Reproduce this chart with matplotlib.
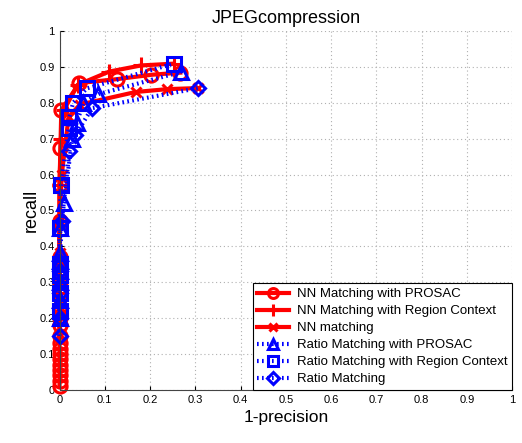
import matplotlib
matplotlib.use("Agg")
import matplotlib.pyplot as plt

plt.rcParams["font.family"] = ["Liberation Sans", "DejaVu Sans"]

# NN matching variants (red, solid)
nn_prosac_x = [0, 0, 0, 0, 0, 0, 0, 0, 0, 0, 0, 0, 0, 0, 0, 0, 0, 0, 0, 0.002, 0.004, 0.044, 0.128, 0.203, 0.267]
nn_prosac_y = [0.01, 0.025, 0.04, 0.055, 0.07, 0.085, 0.10, 0.115, 0.13, 0.15, 0.18, 0.20, 0.23, 0.27, 0.30,
               0.33, 0.37, 0.47, 0.57, 0.675, 0.78, 0.855, 0.866, 0.878, 0.884]
nn_region_x = [0, 0, 0, 0, 0, 0, 0, 0.003, 0.010, 0.040, 0.110, 0.180, 0.252]
nn_region_y = [0.18, 0.22, 0.27, 0.32, 0.36, 0.45, 0.57, 0.70, 0.78, 0.85, 0.887, 0.904, 0.909]
nn_plain_x = [0, 0, 0, 0, 0, 0.005, 0.020, 0.045, 0.168, 0.238, 0.307]
nn_plain_y = [0.15, 0.22, 0.30, 0.38, 0.47, 0.60, 0.76, 0.795, 0.830, 0.838, 0.841]

# Ratio matching variants (blue, dotted)
ratio_prosac_x = [0, 0, 0, 0, 0, 0, 0.002, 0.010, 0.028, 0.038, 0.053, 0.086, 0.269]
ratio_prosac_y = [0.20, 0.25, 0.30, 0.33, 0.36, 0.38, 0.45, 0.52, 0.70, 0.745, 0.80, 0.824, 0.886]
ratio_region_x = [0, 0, 0, 0, 0, 0.003, 0.020, 0.022, 0.030, 0.060, 0.252]
ratio_region_y = [0.22, 0.27, 0.32, 0.35, 0.45, 0.57, 0.73, 0.76, 0.80, 0.84, 0.909]
ratio_plain_x = [0, 0, 0, 0, 0.005, 0.022, 0.035, 0.072, 0.307]
ratio_plain_y = [0.15, 0.20, 0.27, 0.33, 0.47, 0.665, 0.71, 0.785, 0.841]

red = "#ff0000"
blue = "#0000ff"
dots = (0, (0.4, 0.8))

fig = plt.figure(figsize=(5.22, 4.43), dpi=100)
ax = fig.add_axes([0.114, 0.120, 0.867, 0.810])

mk = dict(markersize=9.5, markeredgewidth=2.2, markerfacecolor="none", clip_on=False)
ax.plot(nn_prosac_x, nn_prosac_y, "-", color=red, lw=3, marker="o", markeredgecolor=red,
        label="NN Matching with PROSAC", **mk)
ax.plot(nn_region_x, nn_region_y, "-", color=red, lw=3, marker="+", markeredgecolor=red,
        label="NN Matching with Region Context", markersize=12, markeredgewidth=2.2, clip_on=False)
ax.plot(nn_plain_x, nn_plain_y, "-", color=red, lw=3, marker="x", markeredgecolor=red,
        label="NN matching", markersize=7.5, markeredgewidth=2.2, clip_on=False)
ax.plot(ratio_prosac_x, ratio_prosac_y, linestyle=dots, color=blue, lw=3, marker="^", markeredgecolor=blue,
        label="Ratio Matching with PROSAC", **mk)
ax.plot(ratio_region_x, ratio_region_y, linestyle=dots, color=blue, lw=3, marker="s", markeredgecolor=blue,
        label="Ratio Matching with Region Context", **mk)
ax.plot(ratio_plain_x, ratio_plain_y, linestyle=dots, color=blue, lw=3, marker="D", markeredgecolor=blue,
        label="Ratio Matching", markersize=7.5, markeredgewidth=2.2, markerfacecolor="none", clip_on=False)

ax.set_xlim(0, 1)
ax.set_ylim(0, 1)
ticks = [0, 0.1, 0.2, 0.3, 0.4, 0.5, 0.6, 0.7, 0.8, 0.9, 1]
tick_labels = ["0", "0.1", "0.2", "0.3", "0.4", "0.5", "0.6", "0.7", "0.8", "0.9", "1"]
ax.set_xticks(ticks, tick_labels)
ax.set_yticks(ticks, tick_labels)
ax.tick_params(direction="in", length=3, labelsize=8, colors="black")
ax.grid(True, linestyle=(0, (1, 2.5)), color="#b0b0b0", lw=0.8)
for s in ["top", "right"]:
    ax.spines[s].set_visible(False)
for s in ["left", "bottom"]:
    ax.spines[s].set_color("#444444")

ax.set_title("JPEGcompression", fontsize=13)
ax.set_xlabel("1-precision", fontsize=12.5, labelpad=4)
ax.set_ylabel("recall", fontsize=13, labelpad=0)

leg = ax.legend(loc="lower right", bbox_to_anchor=(1.0, 0.0), fontsize=9.5, fancybox=False,
                edgecolor="black", framealpha=1, handlelength=2.4, borderpad=0.35,
                labelspacing=0.36, handletextpad=0.6, markerscale=0.75, borderaxespad=0)
leg.get_frame().set_linewidth(0.8)

fig.savefig("out.png", dpi=100)
